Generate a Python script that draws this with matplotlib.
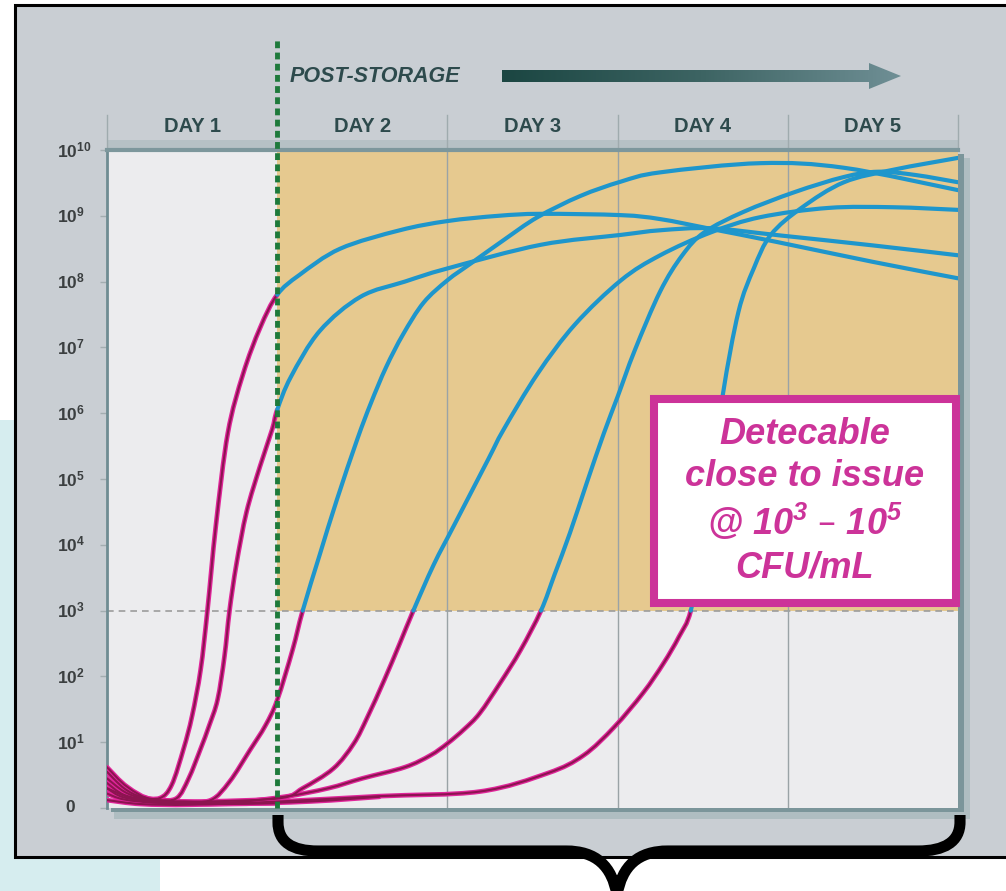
import matplotlib
matplotlib.use("Agg")
import matplotlib.pyplot as plt
import numpy as np
from matplotlib.patches import Rectangle, Polygon, PathPatch
from matplotlib.path import Path
from matplotlib.colors import LinearSegmentedColormap

# ----------------------------
# Data: day since collection vs log10 CFU/mL
# ----------------------------
DAYS = ["DAY 1", "DAY 2", "DAY 3", "DAY 4", "DAY 5"]
Y_LABELS = ["0"] + [r"$\mathregular{10^{%d}}$" % i for i in range(1, 11)]
DETECT_LEVEL = 3      # 10^3 CFU/mL
STORAGE_DAY = 1       # post-storage starts after day 1

c1_day = [0, 0.1, 0.2, 0.31, 0.38, 0.45, 0.5, 0.55, 0.59, 0.64, 0.71, 0.8, 0.9, 1.0,
          1.13, 1.37, 1.72, 2.0, 2.3, 2.55, 3.02, 3.25, 3.55, 3.94, 4.5, 5.0]
c1_log = [0.55, 0.3, 0.17, 0.15, 0.35, 0.9, 1.4, 2.1, 3.0, 4.3, 5.7, 6.6, 7.3, 7.8,
          8.1, 8.5, 8.78, 8.92, 9.0, 9.03, 9.01, 8.95, 8.8, 8.6, 8.3, 8.05]

c2_day = [0, 0.1, 0.2, 0.3, 0.41, 0.48, 0.55, 0.6, 0.65, 0.69, 0.72, 0.76, 0.82, 0.9, 0.97,
          1.0, 1.08, 1.25, 1.49, 1.75, 2.0, 2.55, 3.02, 3.25, 3.55, 3.96, 4.5, 5.0]
c2_log = [0.45, 0.25, 0.15, 0.12, 0.15, 0.45, 0.9, 1.25, 1.65, 2.3, 3.0, 3.7, 4.5, 5.2, 5.75,
          6.05, 6.55, 7.25, 7.77, 8.0, 8.2, 8.56, 8.71, 8.78, 8.81, 8.7, 8.55, 8.4]

c3_day = [0, 0.1, 0.25, 0.45, 0.61, 0.72, 0.84, 0.93, 1.0, 1.09, 1.15, 1.25, 1.35, 1.47,
          1.55, 1.64, 1.74, 1.86, 2.0, 2.14, 2.33, 2.53, 2.78, 3.02, 3.25, 3.84, 4.33, 5.0]
c3_log = [0.38, 0.2, 0.12, 0.1, 0.12, 0.4, 0.88, 1.25, 1.64, 2.4, 3.0, 3.85, 4.68, 5.6,
          6.15, 6.7, 7.2, 7.68, 8.02, 8.28, 8.63, 8.98, 9.3, 9.52, 9.66, 9.8, 9.73, 9.39]

c4_day = [0, 0.1, 0.3, 0.6, 1.02, 1.15, 1.33, 1.45, 1.53, 1.63, 1.72, 1.8, 1.92, 2.04,
          2.24, 2.33, 2.53, 2.75, 3.02, 3.25, 3.55, 3.84, 4.24, 4.62, 5.0]
c4_log = [0.3, 0.16, 0.1, 0.1, 0.15, 0.3, 0.6, 0.98, 1.38, 1.95, 2.5, 3.0, 3.7, 4.3,
          5.3, 5.75, 6.6, 7.35, 8.02, 8.4, 8.75, 8.98, 9.12, 9.13, 9.09]

c5_day = [0, 0.1, 0.3, 0.7, 1.04, 1.3, 1.5, 1.75, 1.9, 2.0, 2.1, 2.19, 2.31, 2.43, 2.55,
          2.63, 2.72, 2.82, 2.92, 3.0, 3.1, 3.25, 3.38, 3.51, 3.74, 4.04, 4.33, 4.53, 4.75, 5.0]
c5_log = [0.22, 0.13, 0.08, 0.08, 0.17, 0.3, 0.45, 0.62, 0.8, 0.98, 1.2, 1.44, 1.9, 2.4, 3.0,
          3.55, 4.18, 4.95, 5.7, 6.25, 6.95, 7.85, 8.4, 8.75, 9.06, 9.36, 9.59, 9.67, 9.62, 9.51]

c6_day = [0, 0.2, 0.5, 1.02, 1.6, 2.19, 2.59, 2.8, 2.98, 3.15, 3.27, 3.36, 3.43, 3.5, 3.56,
          3.62, 3.71, 3.8, 3.9, 4.08, 4.33, 4.62, 5.0]
c6_log = [0.12, 0.06, 0.05, 0.1, 0.18, 0.25, 0.53, 0.8, 1.23, 1.75, 2.2, 2.6, 3.0, 4.0, 5.1,
          6.31, 7.54, 8.2, 8.71, 9.12, 9.51, 9.7, 9.88]

# units that never grow (stay near the baseline)
c7_day = [0, 0.12, 0.28, 0.6, 1.0]
c7_log = [0.62, 0.32, 0.12, 0.07, 0.07]
c8_day = [0, 0.15, 0.3, 0.7, 1.2, 1.6]
c8_log = [0.3, 0.14, 0.08, 0.06, 0.1, 0.17]

curves = [(c1_day, c1_log), (c2_day, c2_log), (c3_day, c3_log), (c4_day, c4_log),
          (c5_day, c5_log), (c6_day, c6_log), (c7_day, c7_log), (c8_day, c8_log)]

# ----------------------------
# Style
# ----------------------------
W, H = 1006, 891
PANEL = "#c9ced3"
LIGHT = "#ececee"
TAN = "#e6c98f"
MAGENTA = "#cc3399"
PINK = "#e0259a"
WINE = "#8c1450"
BLUE = "#1e96cc"
SLATE = "#2d4a4c"
SANS = ["Liberation Sans", "DejaVu Sans"]


def smooth_segments(x, y):
    # Catmull-Rom through the read points, one cubic piece per gap
    pts = np.column_stack([x, y]).astype(float)
    n = len(pts)
    segs = []
    for i in range(n - 1):
        p0 = pts[i - 1] if i > 0 else pts[i]
        p1, p2 = pts[i], pts[i + 1]
        p3 = pts[i + 2] if i + 2 < n else pts[i + 1]
        segs.append([p1, p1 + (p2 - p0) / 6, p2 - (p3 - p1) / 6, p2])
    return segs


def seg_path(segs):
    verts = [segs[0][0]]
    codes = [Path.MOVETO]
    for s in segs:
        verts += [s[1], s[2], s[3]]
        codes += [Path.CURVE4] * 3
    return Path(verts, codes)


fig = plt.figure(figsize=(W / 100, H / 100), dpi=100)
fig.patch.set_facecolor("white")

# background layer in pixel coordinates
bg = fig.add_axes([0, 0, 1, 1], zorder=0)
bg.set_xlim(0, W)
bg.set_ylim(H, 0)
bg.axis("off")
bg.add_patch(Rectangle((0, 420), 160, 471, fc="#d6edef", ec="none"))
bg.add_patch(Rectangle((15, 5), 995, 852, fc=PANEL, ec="black", lw=2.2))
bg.add_patch(Rectangle((114, 158), 856, 661, fc="#9fb2b6", ec="none", alpha=0.6))
bg.add_patch(Rectangle((111, 154), 853, 658, fc="#7b959a", ec="none"))
bg.add_patch(Rectangle((107, 140), 851, 10, fc="#b6c1c5", ec="none"))

# main plot
L, R, T, B = 107, 958, 150, 808
ax = fig.add_axes([L / W, 1 - B / H, (R - L) / W, (B - T) / H], zorder=1)
ax.set_xlim(0, len(DAYS))
ax.set_ylim(0, 10)
ax.set_facecolor(LIGHT)
ax.add_patch(Rectangle((STORAGE_DAY, DETECT_LEVEL), len(DAYS) - STORAGE_DAY,
                       10 - DETECT_LEVEL, fc=TAN, ec="none", zorder=0))
ax.axhline(DETECT_LEVEL, color="#9c9c9c", lw=1.2, ls=(0, (4, 3)), zorder=1)

for d in range(2, len(DAYS)):
    ax.axvline(d, color="#9aa3a6", lw=1, zorder=1)
for d in [0, 2, 3, 4, 5]:
    ax.plot([d, d], [1.0, 1.053], transform=ax.get_xaxis_transform(),
            color="#9fabae", lw=1, clip_on=False)

for name in ["right", "bottom"]:
    ax.spines[name].set_visible(False)
ax.spines["left"].set_color("#6f8c92")
ax.spines["left"].set_linewidth(2)
ax.spines["top"].set_color("#7d979c")
ax.spines["top"].set_linewidth(3)

ax.set_xticks([])
ax.set_yticks(range(11))
ax.tick_params(axis="y", length=5, width=1, color="#a3adb0", labelleft=False)
for i, lab in enumerate(Y_LABELS):
    xpos = -0.049 if i == 0 else -0.0588
    ax.text(xpos, i, lab, transform=ax.get_yaxis_transform(), ha="left", va="center",
            fontsize=12.5, fontweight="bold", color="#3b3f40", family=SANS)

for i, lab in enumerate(DAYS):
    ax.text(i + 0.5, 1.035, lab, transform=ax.get_xaxis_transform(), ha="center",
            va="center", fontsize=14.5, fontweight="bold", color=SLATE, family=SANS)

# growth curves: magenta before storage / below detection, blue after
for days, logs in curves:
    days = np.array(days)
    logs = np.array(logs)
    hit = np.where((days >= STORAGE_DAY) & (logs >= DETECT_LEVEL))[0]
    k = hit[0] if len(hit) else len(days) - 1
    segs = smooth_segments(days, logs)
    pre = seg_path(segs[:k])
    ax.add_patch(PathPatch(pre, fc="none", ec=PINK, lw=3.4, capstyle="round", zorder=3))
    ax.add_patch(PathPatch(pre, fc="none", ec=WINE, lw=1.5, capstyle="round", zorder=4))
    if len(hit):
        post = seg_path(segs[k:])
        ax.add_patch(PathPatch(post, fc="none", ec=BLUE, lw=3, capstyle="round", zorder=5))

# post-storage marker
ax.plot([STORAGE_DAY, STORAGE_DAY], [0, 1.167], transform=ax.get_xaxis_transform(),
        color="#1e7a3b", lw=3.5, ls=(0, (1.4, 0.9)), clip_on=False, zorder=6)

# foreground layer in pixel coordinates
fg = fig.add_axes([0, 0, 1, 1], zorder=2)
fg.set_facecolor("none")
fg.axis("off")

fg.text(290, 76, "POST-STORAGE", ha="left", va="center", fontsize=15.5, style="italic",
        fontweight="bold", color=SLATE, family=SANS)

arrow = Polygon([(502, 70), (869, 70), (869, 63), (901, 76), (869, 89), (869, 82), (502, 82)],
                closed=True, fc="none", ec="none")
fg.add_patch(arrow)
grad = np.linspace(0, 1, 256).reshape(1, -1)
cmap = LinearSegmentedColormap.from_list("arr", ["#1b4642", "#3d6463", "#6f8f95"])
im = fg.imshow(grad, extent=(502, 901, 89, 63), cmap=cmap, aspect="auto")
im.set_clip_path(arrow)

# annotation box
fg.add_patch(Rectangle((654, 399), 302, 204, fc="white", ec=MAGENTA, lw=5.8, zorder=5))
fg.text(805, 501, "Detecable\nclose to issue\n@ $\\mathregular{10^3}$ \u2013 $\\mathregular{10^5}$\nCFU/mL",
        ha="center", va="center", fontsize=26, fontweight="bold", style="italic",
        color=MAGENTA, family=SANS, linespacing=1.25, zorder=6)

# brace under days 2-5
verts = [(278, 815), (278, 822), (278, 842), (292, 851), (318, 851), (566, 851),
         (596, 851), (612, 866), (617, 895),
         (622, 866), (638, 851), (668, 851), (918, 851), (944, 851), (960, 842), (960, 822),
         (960, 815)]
codes = [Path.MOVETO, Path.LINETO, Path.CURVE4, Path.CURVE4, Path.CURVE4, Path.LINETO,
         Path.CURVE4, Path.CURVE4, Path.CURVE4,
         Path.CURVE4, Path.CURVE4, Path.CURVE4, Path.LINETO, Path.CURVE4, Path.CURVE4,
         Path.CURVE4, Path.LINETO]
fg.add_patch(PathPatch(Path(verts, codes), fc="none", ec="black", lw=8, joinstyle="miter",
                       capstyle="butt", zorder=4))

fg.set_xlim(0, W)
fg.set_ylim(H, 0)

plt.savefig("out.png", dpi=100, facecolor=fig.get_facecolor())
